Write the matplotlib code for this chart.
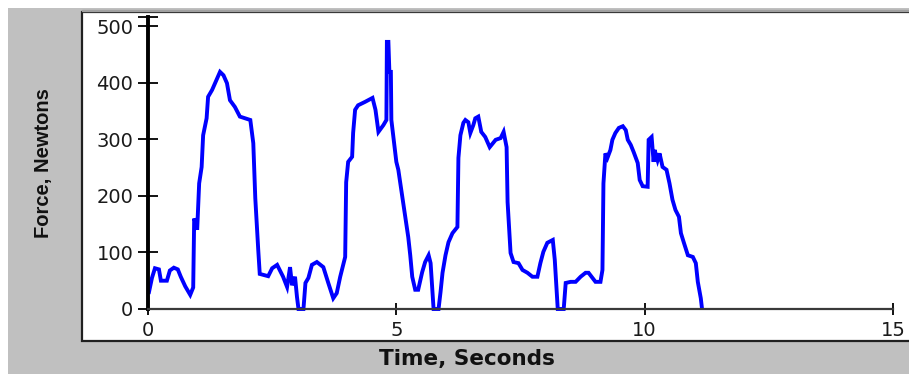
import matplotlib
matplotlib.use("Agg")
import matplotlib.pyplot as plt
from matplotlib.patches import Rectangle

time_s = [0.02, 0.08, 0.14, 0.22, 0.26, 0.38, 0.44, 0.52, 0.60, 0.66, 0.75, 0.85, 0.91,
          0.93, 0.97, 0.99, 1.03, 1.08, 1.11, 1.18, 1.21, 1.29, 1.35, 1.45, 1.52, 1.59,
          1.65, 1.75, 1.85, 2.06, 2.12, 2.16, 2.22, 2.25, 2.42, 2.50, 2.60, 2.72, 2.80,
          2.86, 2.90, 2.96, 3.00, 3.03, 3.13, 3.17, 3.23, 3.30, 3.40, 3.53, 3.63, 3.73,
          3.80, 3.87, 3.97, 3.99, 4.03, 4.11, 4.13, 4.17, 4.23, 4.37, 4.52, 4.58, 4.64,
          4.74, 4.80, 4.81, 4.84, 4.86, 4.89, 4.90, 4.94, 5.00, 5.04, 5.12, 5.18, 5.24,
          5.28, 5.32, 5.38, 5.44, 5.52, 5.58, 5.65, 5.69, 5.73, 5.75, 5.85, 5.89, 5.93,
          5.99, 6.05, 6.13, 6.23, 6.25, 6.29, 6.35, 6.39, 6.45, 6.49, 6.55, 6.59, 6.65,
          6.71, 6.79, 6.88, 7.00, 7.10, 7.16, 7.22, 7.24, 7.30, 7.36, 7.46, 7.54, 7.64,
          7.74, 7.84, 7.90, 7.96, 8.04, 8.15, 8.19, 8.23, 8.25, 8.37, 8.41, 8.51, 8.61,
          8.71, 8.81, 8.87, 8.95, 9.01, 9.11, 9.15, 9.17, 9.21, 9.25, 9.31, 9.35, 9.41,
          9.48, 9.56, 9.62, 9.66, 9.72, 9.78, 9.86, 9.90, 9.96, 10.06, 10.08, 10.14,
          10.18, 10.20, 10.26, 10.30, 10.36, 10.44, 10.50, 10.56, 10.62, 10.69, 10.73,
          10.79, 10.87, 10.97, 11.03, 11.07, 11.13, 11.15]

force_n = [30, 55, 72, 70, 50, 50, 68, 73, 70, 57, 40, 25, 38,
           160, 150, 140, 222, 251, 307, 337, 375, 387, 399, 419, 413, 399,
           369, 357, 340, 334, 293, 196, 104, 62, 58, 72, 78, 57, 39,
           74, 42, 57, 21, 0, 0, 46, 55, 78, 83, 74, 46, 19,
           28, 57, 92, 224, 260, 269, 311, 352, 360, 366, 373, 352, 313,
           325, 334, 472, 472, 419, 419, 334, 304, 260, 246, 198, 161, 127,
           95, 57, 34, 34, 65, 83, 95, 81, 28, 0, 0, 30, 64,
           95, 118, 134, 145, 267, 307, 329, 334, 330, 311, 325, 337, 340,
           313, 304, 286, 299, 302, 313, 286, 189, 99, 83, 81, 69, 64,
           57, 57, 81, 101, 117, 122, 87, 30, 0, 0, 46, 48, 48,
           57, 64, 64, 55, 48, 48, 69, 222, 275, 267, 281, 299, 311,
           320, 323, 316, 299, 290, 277, 258, 228, 217, 216, 299, 304,
           260, 281, 263, 275, 251, 246, 222, 193, 175, 163, 134,
           117, 95, 92, 81, 48, 19, 4]

x_ticks = [0, 5, 10, 15]
y_ticks = [0, 100, 200, 300, 400, 500]
x_label = "Time, Seconds"
y_label = "Force, Newtons"

W, H = 909, 374
fig = plt.figure(figsize=(W / 100, H / 100), dpi=100, facecolor="white")

# gray window background
fig.patches.append(Rectangle((8 / W, 0), 1 - 8 / W, 1 - 8 / H, transform=fig.transFigure,
                             facecolor="#c0c0c0", edgecolor="none", zorder=0))
# white plot panel with border
fig.patches.append(Rectangle((81.5 / W, 1 - 341 / H), 1.0, (341 - 12) / H,
                             transform=fig.transFigure, facecolor="white",
                             edgecolor="#202020", linewidth=1.6, zorder=1))
fig.patches.append(Rectangle((81.5 / W, 1 - 10.5 / H), 1.0, 0.001,
                             transform=fig.transFigure, facecolor="none",
                             edgecolor="#a0a0a0", linewidth=1.0, zorder=1))

ax = fig.add_axes([148 / W, 1 - 309 / H, (893 - 148) / W, (309 - 17) / H])
ax.set_zorder(5)
ax.set_facecolor("none")
ax.plot(time_s, force_n, color="#0000ff", linewidth=2.8, clip_on=False,
        solid_joinstyle="miter")

ax.set_xlim(0, 15)
ax.set_ylim(0, 516)
ax.set_xticks(x_ticks)
ax.set_xticklabels([str(v) for v in x_ticks])
ax.set_yticks(y_ticks)
ax.set_yticklabels([str(v) for v in y_ticks])
ax.set_yticks([ax.get_ylim()[1]], minor=True)

for s in ["top", "right"]:
    ax.spines[s].set_visible(False)
ax.spines["left"].set_linewidth(2.8)
ax.spines["left"].set_color("black")
ax.spines["bottom"].set_linewidth(1.6)
ax.spines["bottom"].set_color("#3a3a3a")

ax.tick_params(axis="y", which="major", direction="inout", length=15, width=1.3,
               color="black", pad=3, labelsize=14, labelcolor="#1a1a1a")
ax.tick_params(axis="y", which="minor", direction="inout", length=15, width=1.3,
               color="black")
ax.tick_params(axis="x", direction="inout", length=9, width=1.3, color="black",
               pad=4, labelsize=14, labelcolor="#1a1a1a")
for lab in ax.get_xticklabels() + ax.get_yticklabels():
    lab.set_family("DejaVu Sans")

fig.text(467 / W, 1 - 359 / H, x_label, ha="center", va="center",
         fontsize=15.5, fontweight="bold", family="DejaVu Sans", color="#111111")
fig.text(44 / W, 1 - 163 / H, y_label, ha="center", va="center", rotation=90,
         fontsize=14.5, fontweight="bold", family="Liberation Sans", color="#111111")

fig.savefig("out.png", dpi=100, facecolor=fig.get_facecolor())
